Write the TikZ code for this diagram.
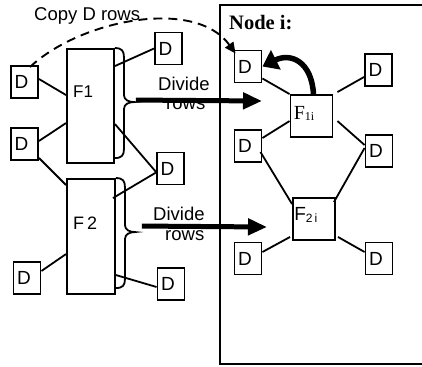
\documentclass[tikz,border=0pt]{standalone}
\usepackage{fontspec}
\setmainfont{Liberation Serif}
\setsansfont{Liberation Sans}
\usetikzlibrary{arrows.meta,calc}
\begin{document}
\begin{tikzpicture}[x=1pt,y=-1pt,
  dbox/.style={draw,line width=1.9pt,minimum width=27pt,minimum height=32pt,inner sep=0pt,font=\sffamily\fontsize{19}{19}\selectfont},
  fbox/.style={draw,line width=1.9pt,inner sep=0pt},
  conn/.style={line width=1.8pt},
  bigarrow/.style={line width=5pt,-{Triangle[length=19pt,width=16pt]}},
  lbl/.style={font=\sffamily\fontsize{18.5}{18.5}\selectfont,inner sep=0pt,anchor=base west},
]
\useasboundingbox (0,0) rectangle (422,366);
% frame of node i
\draw[line width=2.2pt] (422,5) -- (220,5) -- (220,364) -- (422,364);
% left D boxes
\node[dbox] (D1) at (24.5,82) {\kern-6pt D};
\node[dbox] (D2) at (24.5,144) {\kern-6pt D};
\node[dbox] (Dtop) at (168.5,48.5) {\kern-6pt D};
\node[dbox] (D3) at (170.5,168.5) {\kern-6pt D};
\node[dbox] (D4) at (27,278) {\kern-6pt D};
\node[dbox] (D5) at (171,284) {\kern-6pt D};
% F boxes
\node[fbox,minimum width=47pt,minimum height=114pt] (F1) at (90.5,106) {};
\node[fbox,minimum width=48pt,minimum height=115pt] (F2) at (91,236.5) {};
\node[lbl,font=\sffamily\fontsize{17}{17}\selectfont] (F1lbl) at (73,98) {F1};
\node[lbl,font=\sffamily\fontsize{18}{18}\selectfont] (F2lbl) at (73,229) {F\,2};
% right D boxes
\node[dbox] (Da) at (248,66.5) {\kern-6pt D};
\node[dbox] (Dtr) at (378.5,70) {\kern-6pt D};
\node[dbox] (Dml) at (248,146) {\kern-6pt D};
\node[dbox] (Dmr) at (379,151) {\kern-6pt D};
\node[dbox] (Dbl) at (248,258.5) {\kern-6pt D};
\node[dbox] (Dbr) at (379,258.5) {\kern-6pt D};
\node[fbox,minimum width=42pt,minimum height=42pt] (F1i) at (311.5,116) {};
\node[fbox,minimum width=42pt,minimum height=42pt] (F2i) at (314,219) {};
\node[inner sep=0pt,anchor=base west,font=\fontsize{20}{20}\selectfont] (F1ilbl) at ($(F1i.north west)+(4,25)$) {F\raisebox{-1pt}{\fontsize{12}{12}\selectfont 1i}};
\node[inner sep=0pt,anchor=base west,font=\sffamily\fontsize{19}{19}\selectfont] (F2ilbl) at ($(F2i.north west)+(2,23)$) {F\raisebox{-2pt}{\fontsize{12}{12}\selectfont 2\,i}};
\node[inner sep=0pt,anchor=base west,font=\bfseries\fontsize{20.5}{20.5}\selectfont] (nodei) at (229,30) {Node i:};
% texts
\node[lbl] (copy) at (34,21) {Copy D rows};
\node[lbl] (div1) at (158,91) {Divide};
\node[lbl] (rows1) at (166,110) {rows};
\node[lbl] (div2) at (153,220) {Divide};
\node[lbl] (rows2) at (165,240) {rows};
% braces
\draw[conn] (F1.north east) .. controls +(7,0) and +(0,-6) .. ++(9,9) -- ++(0,38)
  .. controls +(0,5) and +(-5,0) .. ++(10,7) coordinate (b1)
  .. controls +(-5,0) and +(0,-5) .. ++(-10,7) -- ++(0,40)
  .. controls +(0,6) and +(7,0) .. ++(-9,9);
\draw[conn] (F2.north east) .. controls +(7,0) and +(0,-6) .. ++(9,9) -- ++(0,38)
  .. controls +(0,5) and +(-5,0) .. ++(10,7) coordinate (b2)
  .. controls +(-5,0) and +(0,-5) .. ++(-10,7) -- ++(0,40)
  .. controls +(0,6) and +(7,0) .. ++(-9,9);
% big arrows
\coordinate (a1) at (262,101);
\coordinate (a2) at (267,227);
\draw[bigarrow] ([xshift=2pt,yshift=2pt]b1) -- (a1);
\draw[bigarrow] ([xshift=7pt,yshift=6pt]b2) -- (a2);
% curved thick arrow
\draw[line width=5.5pt,-{Triangle[length=15pt,width=21pt]}] ([xshift=2pt]F1i.north) .. controls +(-2,-33) and +(28,-14) .. (Da.east);
% dashed copy arrow
\draw[line width=1.9pt,dash pattern=on 9pt off 6pt,-{Triangle[length=11pt,width=10pt]}] ($(D1.north east)+(-9,2)$) .. controls (80,20) and (195,-3) .. ($(Da.north west)+(2,4)$);
% left connectors
\draw[conn] ($(D1.east)+(0,-3)$) -- ($(F1.north west)+(0,47)$);
\draw[conn] ($(D2.east)+(0,-3)$) -- ($(F1.north west)+(0,75)$);
\draw[conn] ($(D2.south east)+(0,-3)$) -- ($(F2.north west)+(0,7)$);
\draw[conn] ($(F1.north east)+(0,18)$) -- (Dtop.west);
\draw[conn] ($(F1.north east)+(0,76)$) -- ($(D3.west)+(0,3.5)$);
\draw[conn] ($(F2.north east)+(-3,20)$) -- ($(D3.west)+(0,4)$);
\draw[conn] ($(D4.east)+(0,-7)$) -- ($(F2.north west)+(0,76)$);
\draw[conn] ($(F2.north east)+(0,97)$) -- ($(D5.west)+(0,3)$);
% right connectors
\draw[conn] ($(Da.east)+(0,12)$) -- (F1i.north west);
\draw[conn] ($(F1i.north east)+(4,-2)$) -- ($(Dtr.west)+(0,7)$);
\draw[conn] ($(F1i.north west)+(0,27)$) -- ($(Dml.east)+(0,-8)$);
\draw[conn] ($(F1i.north east)+(4,27)$) -- ($(Dmr.west)+(0,-6)$);
\draw[conn] ($(Dml.east)+(-2,6)$) -- ($(F2i.north west)+(0,7)$);
\draw[conn] ($(Dmr.west)+(0,-3)$) -- ($(F2i.north east)+(-2,5)$);
\draw[conn] ($(F2i.south west)+(-2,-4)$) -- ($(Dbl.east)+(0,-6.5)$);
\draw[conn] ($(F2i.south east)+(2,-4)$) -- ($(Dbr.west)+(0,-6.5)$);
\end{tikzpicture}
\end{document}
